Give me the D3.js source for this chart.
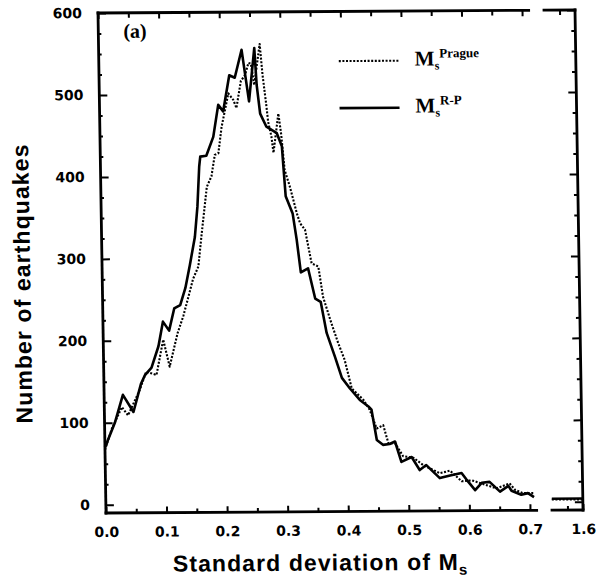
<!DOCTYPE html>
<html>
<head>
<meta charset="utf-8">
<script src="https://cdn.jsdelivr.net/npm/d3@7"></script>
<style>
  body { margin: 0; background: #fff; }
</style>
</head>
<body>
<svg id="chart" width="602" height="580"></svg>
<script>
// DATA (Ms R-P solid, Ms Prague dotted)
var sdRP = [0.000, 0.017, 0.031, 0.048, 0.061, 0.068, 0.079, 0.091, 0.099, 0.109,
  0.118, 0.128, 0.137, 0.145, 0.154, 0.159, 0.163, 0.165, 0.175, 0.187,
  0.196, 0.204, 0.215, 0.224, 0.236, 0.247, 0.257, 0.260, 0.265, 0.275,
  0.292, 0.300, 0.302, 0.305, 0.316, 0.322, 0.328, 0.340, 0.351, 0.360,
  0.369, 0.382, 0.393, 0.406, 0.422, 0.436, 0.441, 0.449, 0.459, 0.470,
  0.479, 0.489, 0.506, 0.519, 0.530, 0.552, 0.569, 0.588, 0.596, 0.610,
  0.621, 0.634, 0.651, 0.665, 0.670, 0.686, 0.697, 0.707];
var countRP = [70, 100, 134, 113, 147, 158, 167, 193, 223, 212,
  239, 243, 264, 292, 326, 363, 412, 424, 425, 448,
  487, 479, 523, 520, 554, 491, 556, 511, 476, 460,
  452, 436, 411, 375, 354, 322, 282, 287, 250, 246,
  208, 179, 153, 140, 126, 118, 114, 77, 71, 72,
  75, 50, 56, 40, 46, 30, 33, 36, 28, 15,
  24, 25, 13, 20, 14, 9, 11, 6];

var sdPrague = [0.000, 0.012, 0.029, 0.039, 0.059, 0.070, 0.087, 0.099, 0.109, 0.123,
  0.133, 0.150, 0.159, 0.165, 0.175, 0.183, 0.189, 0.195, 0.201, 0.213,
  0.221, 0.226, 0.234, 0.241, 0.247, 0.251, 0.256, 0.266, 0.270, 0.275,
  0.278, 0.283, 0.286, 0.295, 0.299, 0.304, 0.312, 0.323, 0.328, 0.336,
  0.346, 0.357, 0.364, 0.377, 0.388, 0.398, 0.409, 0.428, 0.438, 0.449,
  0.460, 0.468, 0.479, 0.492, 0.509, 0.525, 0.552, 0.569, 0.588, 0.605,
  0.629, 0.645, 0.667, 0.676, 0.689, 0.708];
var countPrague = [67, 93, 119, 109, 140, 162, 158, 201, 168, 209,
  230, 275, 290, 328, 387, 400, 426, 428, 460, 501,
  493, 483, 516, 523, 538, 537, 511, 561, 523, 489,
  466, 448, 428, 476, 452, 407, 387, 354, 342, 334,
  293, 289, 252, 220, 195, 175, 140, 126, 114, 91,
  95, 73, 73, 57, 55, 46, 36, 39, 26, 27,
  21, 17, 23, 15, 11, 11];

// far tail shown after the axis break
var tailSd = [1.55, 1.6];
var tailRP = [4, 4];
var tailPrague = [3, 3];

// TICKS
var xTicks = [0.0, 0.1, 0.2, 0.3, 0.4, 0.5, 0.6, 0.7];
var xMinorTicks = [0.05, 0.15, 0.25, 0.35, 0.45, 0.55, 0.65];
var x2Ticks = [1.6];
var x2MinorTicks = [1.575];
var yTicks = [0, 100, 200, 300, 400, 500, 600];
var yMinorTicks = d3.range(25, 600, 25).filter(function(v) { return v % 100 !== 0; });

var W = 477, H = 500;

// scan is slightly skewed, so the whole plot is sheared a little
var svg = d3.select('#chart');
var g = svg.append('g')
  .attr('transform', 'matrix(1,-0.0063,0.016,1,98,13)');

var x = d3.scaleLinear().domain([0, 0.7]).range([0, 424]);
var x2 = d3.scaleLinear().domain([1.55, 1.6]).range([446, W]);
var y = d3.scaleLinear().domain([-10, 600]).range([H, 0]);

var tickFont = 'DejaVu Sans';

function styleAxis(sel, labels) {
  sel.select('.domain').remove();
  sel.selectAll('.tick line').attr('stroke', '#000').attr('stroke-width', 2);
  sel.selectAll('.tick text')
    .attr('font-family', tickFont)
    .attr('font-weight', 'bold')
    .attr('font-size', 14)
    .attr('fill', '#000');
  if (!labels) sel.selectAll('.tick text').remove();
}

// BOTTOM axis (main + after break)
g.append('g').attr('transform', 'translate(0,' + H + ')')
  .call(d3.axisBottom(x).tickValues(xTicks).tickSize(-6).tickPadding(14)
    .tickFormat(d3.format('.1f')))
  .call(styleAxis, true);
g.append('g').attr('transform', 'translate(0,' + H + ')')
  .call(d3.axisBottom(x).tickValues(xMinorTicks).tickSize(-4))
  .call(styleAxis, false);
g.append('g').attr('transform', 'translate(0,' + H + ')')
  .call(d3.axisBottom(x2).tickValues(x2Ticks).tickSize(-6).tickPadding(14)
    .tickFormat(d3.format('.1f')))
  .call(styleAxis, true);
g.append('g').attr('transform', 'translate(0,' + H + ')')
  .call(d3.axisBottom(x2).tickValues(x2MinorTicks).tickSize(-4))
  .call(styleAxis, false);

// TOP axis
g.append('g')
  .call(d3.axisTop(x).tickValues(xTicks).tickSize(-6))
  .call(styleAxis, false);
g.append('g')
  .call(d3.axisTop(x).tickValues(xMinorTicks).tickSize(-5))
  .call(styleAxis, false);
g.append('g')
  .call(d3.axisTop(x2).tickValues(x2MinorTicks).tickSize(-5))
  .call(styleAxis, false);

// LEFT axis
g.append('g')
  .call(d3.axisLeft(y).tickValues(yTicks).tickSize(-8).tickPadding(16))
  .call(styleAxis, true);
g.append('g')
  .call(d3.axisLeft(y).tickValues(yMinorTicks).tickSize(-3))
  .call(styleAxis, false);

// RIGHT axis
g.append('g').attr('transform', 'translate(' + W + ',0)')
  .call(d3.axisRight(y).tickValues(yTicks).tickSize(-8))
  .call(styleAxis, false);
g.append('g').attr('transform', 'translate(' + W + ',0)')
  .call(d3.axisRight(y).tickValues(yMinorTicks).tickSize(-4))
  .call(styleAxis, false);

// FRAME with the break between 0.7 and 1.55
var frame = g.append('g').attr('stroke', '#000').attr('stroke-width', 2.8)
  .attr('stroke-linecap', 'square');
frame.append('line').attr('x1', 0).attr('y1', 0).attr('x2', 0).attr('y2', H);
frame.append('line').attr('x1', W).attr('y1', 0).attr('x2', W).attr('y2', H);
[0, H].forEach(function(yy) {
  frame.append('line').attr('x1', 0).attr('y1', yy).attr('x2', x(0.711)).attr('y2', yy);
  frame.append('line').attr('x1', x2(1.55)).attr('y1', yy).attr('x2', W).attr('y2', yy);
});

// LINES
var line = d3.line().x(function(d) { return x(d[0]); }).y(function(d) { return y(d[1]); });
var line2 = d3.line().x(function(d) { return x2(d[0]); }).y(function(d) { return y(d[1]); });

var series = [
  { sd: sdPrague, count: countPrague, tail: tailPrague, dash: '2,1.6', width: 2.1 },
  { sd: sdRP, count: countRP, tail: tailRP, dash: null, width: 2.6 }
];

series.forEach(function(s) {
  g.append('path')
    .datum(d3.zip(s.sd, s.count))
    .attr('d', line)
    .attr('fill', 'none')
    .attr('stroke', '#000')
    .attr('stroke-width', s.width)
    .attr('stroke-linejoin', 'round')
    .attr('stroke-dasharray', s.dash);
  g.append('path')
    .datum(d3.zip(tailSd, s.tail))
    .attr('d', line2)
    .attr('fill', 'none')
    .attr('stroke', '#000')
    .attr('stroke-width', s.width)
    .attr('stroke-dasharray', s.dash);
});

// PANEL label
g.append('text')
  .attr('x', 25).attr('y', 25)
  .attr('font-family', 'Liberation Serif')
  .attr('font-weight', 'bold')
  .attr('font-size', 20)
  .text('(a)');

// LEGEND
var legend = [
  { y: 49.6, sup: 'Prague', dash: '2,1.6', width: 2.1 },
  { y: 96.6, sup: 'R-P', dash: null, width: 2.6 }
];
legend.forEach(function(l) {
  g.append('line')
    .attr('x1', 240).attr('x2', 300)
    .attr('y1', l.y).attr('y2', l.y)
    .attr('stroke', '#000')
    .attr('stroke-width', l.width)
    .attr('stroke-dasharray', l.dash);
  var t = g.append('text')
    .attr('x', 316).attr('y', l.y + 5)
    .attr('font-family', 'Liberation Serif')
    .attr('font-weight', 'bold')
    .attr('font-size', 21);
  t.append('tspan').text('M');
  t.append('tspan').attr('font-size', 12).attr('dy', 4).text('s');
  t.append('tspan').attr('font-size', 13).attr('dy', -12).text(l.sup);
});

// AXIS titles
var xt = g.append('text')
  .attr('x', 66).attr('y', 559)
  .attr('font-family', 'Liberation Sans')
  .attr('font-weight', 'bold')
  .attr('font-size', 23)
  .attr('letter-spacing', 1.1);
xt.append('tspan').text('Standard deviation of M');
xt.append('tspan').attr('font-size', 15).attr('dy', 5).text('s');

g.append('text')
  .attr('transform', 'rotate(-90)')
  .attr('x', -270).attr('y', -72)
  .attr('text-anchor', 'middle')
  .attr('font-family', 'Liberation Sans')
  .attr('font-weight', 'bold')
  .attr('font-size', 23)
  .attr('letter-spacing', 1.1)
  .text('Number of earthquakes');
</script>
</body>
</html>
